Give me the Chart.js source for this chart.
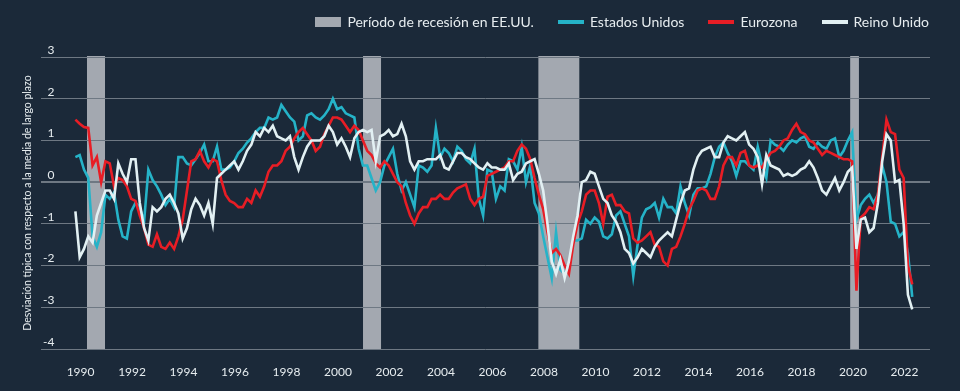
<!DOCTYPE html>
<html>
<head>
<meta charset="utf-8">
<script src="https://cdn.jsdelivr.net/npm/chart.js@4/dist/chart.umd.min.js"></script>
<style>
  html, body { margin: 0; padding: 0; background: #1b2939; }
  #wrap { position: relative; width: 960px; height: 391px; }
  #legend { position: absolute; top: 13px; right: 31px; display: flex; align-items: center;
            font-family: Lato, sans-serif; font-size: 14px; color: #e6ecef; }
  #legend .item { display: flex; align-items: center; margin-left: 24px; }
  #legend .sw { display: inline-block; width: 26px; margin-right: 6px; }
</style>
</head>
<body>
<div id="wrap">
  <canvas id="chart" width="960" height="391"></canvas>
  <div id="legend"></div>
</div>
<script>
// bimonthly readings, Jan 1990 .. Jul 2022
var startYear = 1990;
var stepYears = 1 / 6;

var usa = [
  0.6, 0.65, 0.3, 0.1, -1.3, -1.55,
  -1.2, -0.3, -0.4, -0.25, -0.9, -1.3,
  -1.35, -0.7, -0.5, -0.6, -0.95, 0.3,
  0.05, -0.1, -0.3, -0.55, -0.4, -0.6,
  0.6, 0.6, 0.45, 0.4, 0.55, 0.7,
  0.9, 0.5, 0.5, 0.85, 0.3, 0.3,
  0.35, 0.5, 0.7, 0.8, 0.95, 1.05,
  1.2, 1.3, 1.3, 1.55, 1.5, 1.55,
  1.85, 1.7, 1.55, 1.45, 1.0, 1.1,
  1.6, 1.65, 1.55, 1.5, 1.6, 1.75,
  2.0, 1.75, 1.8, 1.65, 1.6, 1.55,
  0.8, 0.4, 0.4, 0.1, -0.2, 0.0,
  0.4, 0.6, 0.8, 0.2, -0.2, 0.0,
  -0.3, -0.6, 0.4, 0.35, 0.25, 0.4,
  1.3, 0.6, 0.8, 0.7, 0.5, 0.85,
  0.75, 0.55, 0.45, 0.8, -0.4, -0.8,
  0.3, 0.25, -0.4, -0.1, -0.2, 0.55,
  0.5, 0.3, 0.85, 0.0, 0.4, -0.5,
  -0.75, -1.3, -1.8, -2.3, -1.2, -2.1,
  -2.2, -2.0, -1.4, -1.4, -1.35, -0.9,
  -1.0, -0.85, -0.95, -1.3, -1.35, -1.25,
  -0.8, -0.7, -1.0, -1.3, -2.25, -1.5,
  -0.85, -0.65, -0.6, -0.5, -0.85, -0.4,
  -0.6, -0.6, -0.75, -0.1, -0.5, -0.8,
  -0.3, -0.15, -0.15, -0.1, 0.2, 0.6,
  0.85, 0.95, 0.7, 0.5, 0.15, 0.5,
  0.5, 0.4, 0.3, 0.85, 0.4, 0.1,
  1.0, 0.9, 0.85, 0.75, 0.9, 1.0,
  0.95, 1.05, 1.1, 0.85, 0.8, 0.95,
  0.85, 0.8, 1.0, 1.05, 0.6, 0.75,
  1.0, 1.2, -0.9, -0.55, -0.4, -0.3,
  -0.5, -0.3, 0.4, 0.0, -0.95, -1.0,
  -1.3, -1.2, -1.7, -2.75
];

var eurozone = [
  1.5, 1.4, 1.32, 1.3, 0.4, 0.6,
  0.0, 0.5, 0.45, -0.1, 0.1, 0.05,
  -0.1, -0.4, -0.45, -0.8, -1.1, -1.5,
  -1.55, -1.25, -1.55, -1.6, -1.45, -1.6,
  -1.3, -0.9, -0.2, 0.5, 0.55, 0.75,
  0.5, 0.35, 0.55, 0.5, 0.05, -0.3,
  -0.45, -0.5, -0.6, -0.6, -0.4, -0.5,
  -0.2, -0.35, -0.1, 0.25, 0.4, 0.4,
  0.5, 0.75, 0.85, 1.05, 1.2, 1.3,
  1.15, 1.0, 0.75, 0.85, 1.15, 1.35,
  1.55, 1.55, 1.5, 1.35, 1.2, 1.35,
  1.25, 1.0, 0.75, 0.65, 0.45, 0.35,
  0.5, 0.4, 0.2, 0.0, -0.1, -0.5,
  -0.8, -1.0, -0.75, -0.6, -0.6, -0.4,
  -0.4, -0.3, -0.4, -0.4, -0.25, -0.15,
  -0.1, -0.05, -0.4, -0.55, -0.4, -0.35,
  0.15, 0.2, 0.25, 0.3, 0.35, 0.5,
  0.5, 0.75, 0.9, 0.8, 0.55, 0.1,
  -0.3, -0.65, -1.2, -1.7, -1.6, -1.75,
  -2.0, -2.2, -1.5, -1.0, -0.7, -0.3,
  -0.2, -0.2, -0.5, -1.0, -0.35, -0.3,
  -0.55, -0.55, -0.7, -0.75, -1.35, -1.45,
  -1.4, -1.3, -1.2, -1.5, -1.55, -1.9,
  -2.0, -1.6, -1.55, -1.3, -1.0, -0.65,
  -0.45, -0.2, -0.15, -0.2, -0.4, -0.4,
  -0.1, 0.4, 0.6, 0.6, 0.4, 0.7,
  0.75, 0.4, 0.35, 0.4, 0.35, 0.55,
  0.7, 0.75, 0.85, 1.0, 1.05, 1.25,
  1.4, 1.2, 1.15, 1.0, 0.95, 0.8,
  0.65, 0.75, 0.7, 0.65, 0.6, 0.55,
  0.55, 0.5, -2.6, -0.85, -0.75, -0.6,
  -0.65, -0.3, 0.6, 1.5, 1.2, 1.15,
  0.3, 0.1, -2.0, -2.45
];

var uk = [
  -0.7, -1.8, -1.6, -1.3, -1.45, -0.8,
  -0.5, -0.2, -0.2, -0.4, 0.45, 0.2,
  0.0, 0.55, 0.55, -0.5, -1.1, -1.4,
  -0.6, -0.7, -0.6, -0.4, -0.3, -0.5,
  -0.75, -1.35, -1.1, -0.65, -0.4, -0.55,
  -0.8, -0.5, -1.0, 0.1, 0.2, 0.3,
  0.4, 0.5, 0.3, 0.5, 0.75, 0.9,
  1.2, 1.1, 1.3, 1.2, 1.35, 1.1,
  1.05, 1.0, 1.1, 0.6, 0.3, 0.6,
  0.85, 1.0, 1.0, 1.0, 1.1, 1.35,
  1.2, 0.9, 1.05, 0.85, 0.6, 1.05,
  1.2, 1.25, 1.2, 1.25, 0.5, 1.1,
  1.15, 1.25, 1.1, 1.15, 1.4, 1.1,
  0.5, 0.3, 0.5, 0.5, 0.55, 0.55,
  0.55, 0.65, 0.35, 0.3, 0.5, 0.7,
  0.7, 0.6, 0.55, 0.45, 0.35, 0.3,
  0.45, 0.35, 0.35, 0.3, 0.3, 0.45,
  0.05, 0.2, 0.25, 0.45, 0.5, 0.55,
  0.2, -0.2, -1.0, -1.9, -2.2, -1.85,
  -2.3, -1.9, -1.3, -0.8, 0.0, 0.05,
  0.25, 0.2, -0.1, -0.4, -0.5, -0.8,
  -0.95, -1.2, -1.6, -1.7, -1.95, -1.8,
  -1.6, -1.7, -1.8, -1.55, -1.4, -1.3,
  -1.2, -1.3, -0.9, -0.5, -0.2, -0.15,
  0.3, 0.6, 0.75, 0.8, 0.85, 0.6,
  0.6, 0.95, 1.1, 1.05, 1.0, 1.1,
  1.2, 0.9, 0.8, 0.6, -0.05, 0.65,
  0.4, 0.35, 0.3, 0.15, 0.2, 0.15,
  0.2, 0.3, 0.35, 0.5, 0.35, 0.1,
  -0.2, -0.3, -0.1, 0.1, -0.2, 0.0,
  0.25, 0.35, -1.6, -0.9, -0.85, -1.2,
  -1.1, -0.5, 0.5, 1.15, 1.0, 0.0,
  0.05, -1.0, -2.7, -3.05
];

// US recessions (decimal years)
var recessionStart = [1990.45, 2001.17, 2007.98, 2020.09];
var recessionEnd   = [1991.15, 2001.87, 2009.57, 2020.43];

var tickYears = [1990, 1992, 1994, 1996, 1998, 2000, 2002, 2004, 2006, 2008, 2010, 2012, 2014, 2016, 2018, 2020, 2022];
var seriesNames = ['Estados Unidos', 'Eurozona', 'Reino Unido'];
var recessionLabel = 'Período de recesión en EE.UU.';
var yTitle = 'Desviación típica con respecto a la media de largo plazo';

var colors = ['#25b3c8', '#e81d25', '#e2f0f3'];
var bandColor = '#a3a8b0';
var textColor = '#e6ecef';
var gridColor = '#6e7883';

function toPoints(values) {
  return values.map(function (v, i) { return { x: startYear + i * stepYears, y: v }; });
}

var recessionBands = {
  id: 'recessionBands',
  beforeDraw: function (chart) {
    var ctx = chart.ctx, area = chart.chartArea, x = chart.scales.x;
    ctx.save();
    ctx.fillStyle = bandColor;
    for (var i = 0; i < recessionStart.length; i++) {
      var x0 = x.getPixelForValue(recessionStart[i]);
      var x1 = x.getPixelForValue(recessionEnd[i]);
      ctx.fillRect(x0, area.top - 1, x1 - x0, area.bottom - area.top + 1);
    }
    ctx.restore();
  }
};

Chart.defaults.font.family = 'Lato, sans-serif';

var allSeries = [usa, eurozone, uk];
var chart = new Chart(document.getElementById('chart'), {
  type: 'line',
  data: {
    datasets: allSeries.map(function (s, i) {
      return {
        label: seriesNames[i],
        data: toPoints(s),
        borderColor: colors[i],
        borderWidth: 2.6,
        pointRadius: 0,
        tension: 0,
        order: 3 - i
      };
    })
  },
  options: {
    responsive: false,
    animation: false,
    layout: { padding: { left: 15, right: 30, top: 57, bottom: 3.6 } },
    plugins: { legend: { display: false }, tooltip: { enabled: false } },
    scales: {
      x: {
        type: 'linear',
        min: 1988.664,
        max: 2023.19,
        grid: { display: false },
        border: { display: false },
        afterBuildTicks: function (scale) {
          scale.ticks = tickYears.map(function (y) { return { value: y + 0.2 }; });
        },
        ticks: {
          padding: 8,
          color: textColor,
          font: { size: 12 },
          maxRotation: 0,
          autoSkip: false,
          callback: function (value, index) { return String(tickYears[index]); }
        }
      },
      y: {
        min: -4,
        max: 3,
        afterFit: function (scale) { scale.width = 26; },
        border: { display: false },
        grid: {
          color: gridColor,
          drawTicks: false,
          lineWidth: function (c) { return c.tick && c.tick.value === 0 ? 2 : 1; }
        },
        ticks: {
          stepSize: 1,
          mirror: true,
          crossAlign: 'far',
          padding: 2,
          labelOffset: -7,
          color: textColor,
          font: { size: 12 }
        },
        title: {
          display: true,
          text: yTitle,
          color: textColor,
          font: { size: 10.5 },
          padding: { top: 6, bottom: 0 }
        }
      }
    }
  },
  plugins: [recessionBands]
});

// legend
var legend = document.getElementById('legend');
function addItem(text, color, h) {
  var item = document.createElement('span');
  item.className = 'item';
  var sw = document.createElement('span');
  sw.className = 'sw';
  sw.style.background = color;
  sw.style.height = h + 'px';
  item.appendChild(sw);
  item.appendChild(document.createTextNode(text));
  legend.appendChild(item);
}
addItem(recessionLabel, bandColor, 10);
seriesNames.forEach(function (n, i) { addItem(n, colors[i], 4); });
</script>
</body>
</html>
